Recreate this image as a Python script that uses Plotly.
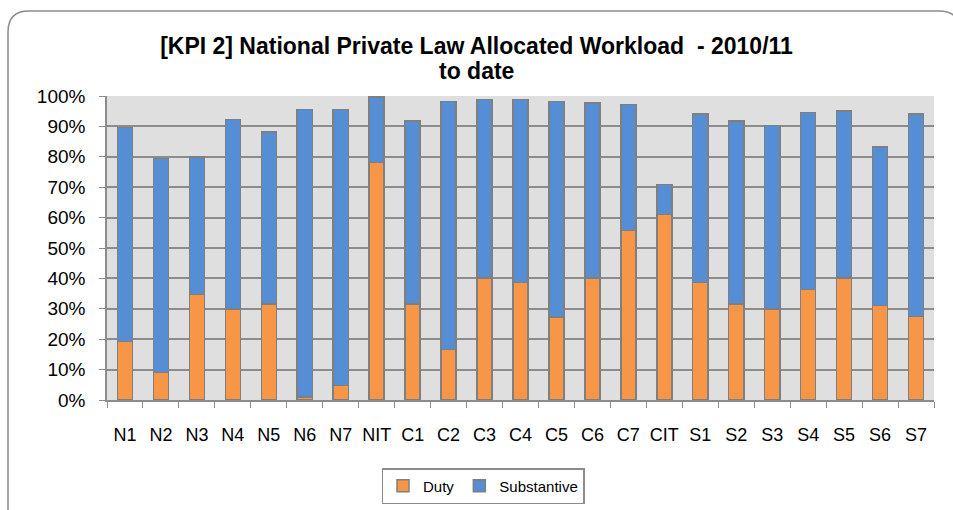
import plotly.graph_objects as go

categories = ["N1", "N2", "N3", "N4", "N5", "N6", "N7", "NIT", "C1", "C2", "C3", "C4",
              "C5", "C6", "C7", "CIT", "S1", "S2", "S3", "S4", "S5", "S6", "S7"]
duty = [19.2, 9.0, 34.7, 30.0, 31.5, 1.0, 4.8, 78.2, 31.5, 16.6, 40.1, 38.6,
        27.3, 40.1, 55.8, 61.0, 38.6, 31.5, 30.0, 36.4, 40.1, 31.1, 27.4]
total = [89.6, 79.4, 80.0, 92.3, 88.1, 95.5, 95.5, 99.7, 91.8, 98.2, 98.8, 98.8,
         98.2, 97.7, 97.2, 70.9, 94.0, 91.8, 90.3, 94.5, 95.0, 83.2, 94.0]
substantive = [round(t - d, 1) for t, d in zip(total, duty)]
y_ticks = [0, 10, 20, 30, 40, 50, 60, 70, 80, 90, 100]
y_labels = [f"{v}%" for v in y_ticks]
title_line1 = "[KPI 2] National Private Law Allocated Workload  - 2010/11"
title_line2 = "to date"

W, H = 953, 510
L, R, T, B = 107, 934, 96, 400


def px(x):
    return (x - L) / (R - L)


def py(y):
    return (B - y) / (B - T)


fig = go.Figure()
fig.add_trace(go.Bar(x=categories, y=duty, name="Duty",
                     marker=dict(color="#F79646", line=dict(color="#7F7F7F", width=1.5))))
fig.add_trace(go.Bar(x=categories, y=substantive, name="Substantive",
                     marker=dict(color="#558ED5", line=dict(color="#7F7F7F", width=1.5))))

# rounded outer frame
x0, x1, y0, y1, r = px(8), px(960), py(11), py(530), 21
rx, ry = r / (R - L), r / (B - T)
path = (f"M {x0},{y1} L {x0},{y0 - ry} Q {x0},{y0} {x0 + rx},{y0} "
        f"L {x1 - rx},{y0} Q {x1},{y0} {x1},{y0 - ry} L {x1},{y1}")

title_font = dict(size=23, family="Liberation Sans, Arial, sans-serif", color="black")

fig.update_layout(
    width=W, height=H,
    margin=dict(l=L, r=W - R, t=T, b=H - B, pad=0, autoexpand=False),
    barmode="stack", bargap=0.58,
    paper_bgcolor="white", plot_bgcolor="#DFDFDF",
    font=dict(family="Liberation Sans, Arial, sans-serif", color="black"),
    title=dict(text=f"<b>{title_line1}</b>",
               x=0.5, xanchor="center", y=1 - 46 / H, yanchor="middle",
               font=title_font),
    annotations=[dict(text=f"<b>{title_line2}</b>", xref="paper", yref="paper",
                      x=px(476.5), y=py(71), xanchor="center", yanchor="middle",
                      showarrow=False, font=title_font)],
    xaxis=dict(tickson="boundaries", ticks="outside", ticklen=6, tickcolor="#8C8C8C",
               showline=True, linecolor="#8C8C8C", linewidth=1.5, tickangle=0,
               tickfont=dict(size=18), showgrid=False, automargin=False,
               ticklabelstandoff=18),
    yaxis=dict(range=[0, 100], tickvals=y_ticks, ticktext=y_labels,
               ticks="outside", ticklen=6, tickcolor="#8C8C8C",
               showline=True, linecolor="#8C8C8C", linewidth=1.5,
               gridcolor="#8C8C8C", gridwidth=1.5, tickfont=dict(size=19),
               zeroline=False, automargin=False, ticklabelstandoff=10),
    legend=dict(orientation="h", x=483 / W, xanchor="center", xref="container",
                y=1 - 468 / H, yanchor="top", yref="container",
                bordercolor="#8C8C8C", borderwidth=1.5, bgcolor="white",
                font=dict(size=15), traceorder="normal", itemwidth=30,
                tracegroupgap=0),
    shapes=[dict(type="path", path=path, xref="paper", yref="paper",
                 line=dict(color="#8C8C8C", width=1.5), layer="below")],
)

fig.write_html("out.html", config={"displayModeBar": False},
               post_script="document.body.style.margin='0px';")
